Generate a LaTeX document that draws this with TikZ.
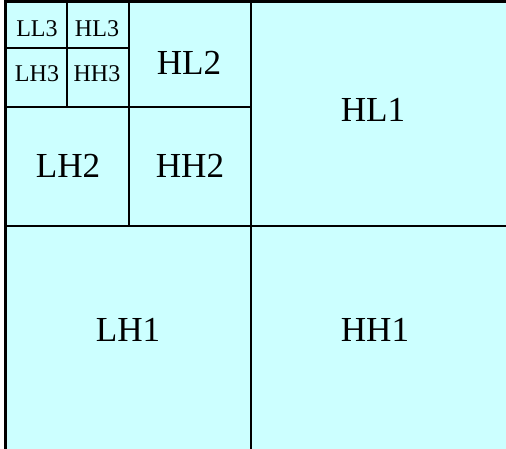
\documentclass[tikz,border=0pt]{standalone}
\usepackage{fontspec}
\setmainfont{Liberation Serif}
\usetikzlibrary{positioning}
\definecolor{bandcyan}{RGB}{204,255,255}

\begin{document}
\begin{tikzpicture}[
  x=0.03cm,y=-0.03cm,
  band/.style={draw=black,line width=0.07cm,fill=bandcyan},
  cut/.style={draw=black,line width=0.07cm},
  big/.style={font=\fontsize{30}{32}\selectfont,inner sep=0pt},
  small/.style={font=\fontsize{20.5}{22}\selectfont,inner sep=0pt},
]
\clip (0,0) rectangle (506,448);

%% outer band and level-1 split
\draw[band] (5.5,1.5) rectangle (540,480);
\coordinate (t1) at (251,1.5);   \coordinate (b1) at (251,480);
\coordinate (l1) at (5.5,226);   \coordinate (r1) at (540,226);
\draw[cut] (t1) -- (b1);
\draw[cut] (l1) -- (r1);

%% level-2 split
\coordinate (t2) at (129,1.5);   \coordinate (b2) at (129,226);
\coordinate (l2) at (5.5,107);   \coordinate (r2) at (251,107);
\draw[cut] (t2) -- (b2);
\draw[cut] (l2) -- (r2);

%% level-3 split
\coordinate (t3) at (67,1.5);    \coordinate (b3) at (67,107);
\coordinate (l3) at (5.5,48);    \coordinate (r3) at (129,48);
\draw[cut] (t3) -- (b3);
\draw[cut] (l3) -- (r3);

%% subband labels
\node[small] (LL3) at (37,29)   {LL3};
\node[small] (HL3) at (97,29)   {HL3};
\node[small] (LH3) at (37,74)   {LH3};
\node[small] (HH3) at (97,74)   {HH3};
\node[big]   (HL2) at (189,63)  {HL2};
\node[big]   (LH2) at (68,166)  {LH2};
\node[big]   (HH2) at (190,166) {HH2};
\node[big]   (HL1) at (373,110) {HL1};
\node[big]   (LH1) at (128,330) {LH1};
\node[big]   (HH1) at (375,330) {HH1};

\end{tikzpicture}
\end{document}
